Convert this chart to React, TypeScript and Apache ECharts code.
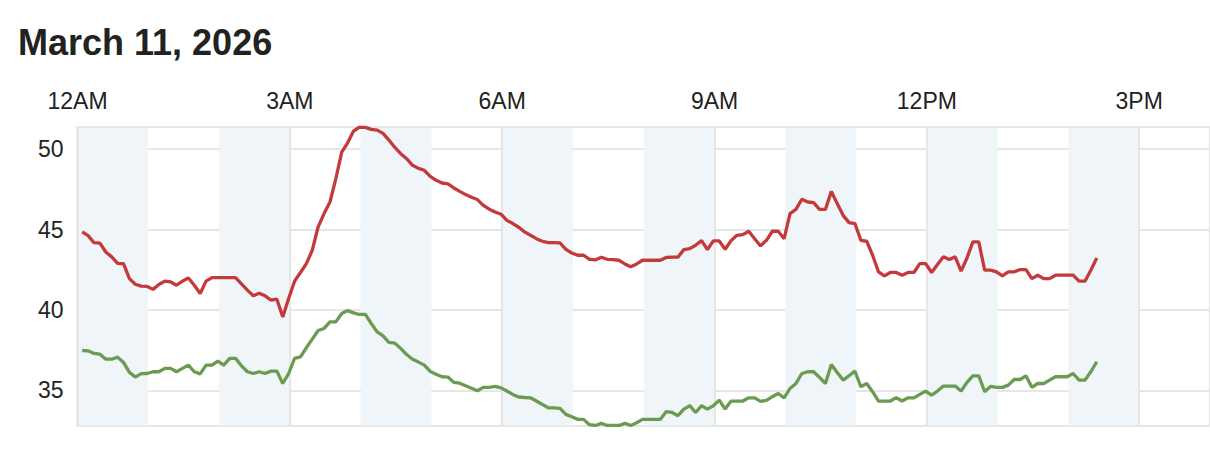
import React, { useEffect, useRef } from "react";
import * as echarts from "echarts";

// Samples every 5 minutes starting at 00:04
const START_MIN = 4;
const STEP_MIN = 5;

const TICK_LABELS = ["12AM", "3AM", "6AM", "9AM", "12PM", "3PM"];
const TITLE = "March 11, 2026";

const redValues = [
  44.85, 44.62, 44.18, 44.15, 43.6, 43.3, 42.9, 42.88, 41.95, 41.6,
  41.48, 41.46, 41.28, 41.58, 41.79, 41.74, 41.54, 41.79, 41.99, 41.54,
  41.02, 41.79, 42.01, 42.01, 42.01, 42.01, 42.01, 41.62, 41.23, 40.88,
  41.04, 40.88, 40.61, 40.67, 39.57, 40.71, 41.79, 42.33, 42.88, 43.71,
  45.16, 45.99, 46.71, 48.16, 49.81, 50.39, 51.12, 51.36, 51.35, 51.22,
  51.18, 50.97, 50.56, 50.1, 49.71, 49.4, 48.99, 48.8, 48.68, 48.3,
  48.06, 47.89, 47.83, 47.58, 47.37, 47.17, 47.0, 46.86, 46.5, 46.26,
  46.09, 45.95, 45.57, 45.37, 45.14, 44.85, 44.64, 44.43, 44.27, 44.19,
  44.19, 44.17, 43.77, 43.54, 43.4, 43.4, 43.15, 43.11, 43.28, 43.15,
  43.13, 43.09, 42.86, 42.68, 42.86, 43.09, 43.09, 43.09, 43.09, 43.26,
  43.28, 43.28, 43.75, 43.81, 44.02, 44.31, 43.75, 44.29, 44.29, 43.77,
  44.31, 44.64, 44.68, 44.89, 44.43, 43.98, 44.33, 44.89, 44.89, 44.43,
  45.99, 46.25, 46.88, 46.71, 46.67, 46.25, 46.25, 47.37, 46.61, 45.88,
  45.43, 45.37, 44.33, 44.27, 43.4, 42.37, 42.12, 42.33, 42.33, 42.16,
  42.33, 42.33, 42.88, 42.88, 42.33, 42.82, 43.3, 43.13, 43.3, 42.41,
  43.23, 44.23, 44.23, 42.47, 42.47, 42.37, 42.12, 42.37, 42.37, 42.51,
  42.51, 41.95, 42.16, 41.95, 41.95, 42.16, 42.16, 42.16, 42.16, 41.79,
  41.79, 42.47, 43.23,
];

const greenValues = [
  37.48, 37.46, 37.3, 37.25, 36.94, 36.94, 37.07, 36.74, 36.12, 35.83,
  36.04, 36.05, 36.16, 36.16, 36.37, 36.37, 36.16, 36.37, 36.57, 36.16,
  36.03, 36.57, 36.57, 36.82, 36.57, 36.99, 36.99, 36.53, 36.16, 36.05,
  36.16, 36.05, 36.2, 36.2, 35.43, 36.05, 36.99, 37.09, 37.65, 38.19,
  38.72, 38.85, 39.26, 39.26, 39.78, 39.96, 39.82, 39.72, 39.72, 39.16,
  38.64, 38.39, 37.98, 37.94, 37.61, 37.23, 36.94, 36.76, 36.57, 36.18,
  36.01, 35.85, 35.83, 35.5, 35.45, 35.29, 35.14, 34.98, 35.19, 35.19,
  35.25, 35.16, 34.96, 34.75, 34.59, 34.56, 34.54, 34.34, 34.13, 33.92,
  33.92, 33.88, 33.51, 33.36, 33.2, 33.2, 32.87, 32.82, 32.95, 32.82,
  32.82, 32.82, 32.95, 32.82, 32.99, 33.2, 33.2, 33.2, 33.2, 33.68,
  33.63, 33.43, 33.84, 34.05, 33.63, 34.05, 33.84, 34.05, 34.4, 33.84,
  34.34, 34.34, 34.34, 34.54, 34.54, 34.32, 34.38, 34.61, 34.81, 34.54,
  35.12, 35.43, 36.05, 36.16, 36.16, 35.81, 35.43, 36.61, 36.12, 35.64,
  35.91, 36.2, 35.23, 35.43, 34.92, 34.34, 34.34, 34.34, 34.54, 34.34,
  34.54, 34.54, 34.75, 34.96, 34.71, 34.96, 35.27, 35.27, 35.27, 34.96,
  35.5, 35.91, 35.91, 34.92, 35.25, 35.19, 35.19, 35.33, 35.68, 35.68,
  35.91, 35.19, 35.43, 35.43, 35.64, 35.85, 35.85, 35.85, 36.05, 35.64,
  35.64, 36.16, 36.78,
];

const Y_MIN = 32.82;
const Y_MAX = 51.37;
const X_MIN = 0;
const X_MAX = 960;

const FONT = '"Liberation Sans", Arial, Helvetica, sans-serif';

function toPairs(values: number[]): [number, number][] {
  return values.map((v, i) => [START_MIN + i * STEP_MIN, v]);
}

export default function App() {
  const ref = useRef<HTMLDivElement>(null);

  useEffect(() => {
    document.body.style.margin = "0";
    if (!ref.current) return;
    const chart = echarts.init(ref.current, undefined, { renderer: "svg" });
    const gridColor = "#e6e6e6";
    chart.setOption({
      animation: false,
      backgroundColor: "#ffffff",
      title: {
        text: TITLE,
        left: 13,
        top: 19,
        textStyle: {
          fontFamily: FONT,
          fontSize: 36,
          fontWeight: "bold",
          color: "#222222",
        },
      },
      grid: {
        left: 77.5,
        right: 0,
        top: 127,
        bottom: 40.5,
        show: false,
      },
      xAxis: [
        {
          type: "value",
          min: X_MIN,
          max: X_MAX,
          interval: 60,
          position: "bottom",
          axisLine: { show: false },
          axisTick: { show: false },
          axisLabel: { show: false },
          splitLine: { show: false },
          splitArea: {
            show: true,
            areaStyle: { color: ["#eff5f8", "rgba(255,255,255,0)"] },
          },
        },
        {
          type: "value",
          min: X_MIN,
          max: X_MAX,
          interval: 180,
          position: "top",
          axisLine: { show: true, lineStyle: { color: gridColor, width: 2 } },
          axisTick: { show: false },
          axisLabel: {
            show: true,
            showMaxLabel: false,
            margin: 15,
            fontFamily: FONT,
            fontSize: 23,
            color: "#222222",
            formatter: (v: number) =>
              v % 180 === 0 ? TICK_LABELS[v / 180] ?? "" : "",
          },
          splitLine: { show: true, lineStyle: { color: gridColor, width: 2 } },
        },
      ],
      yAxis: {
        type: "value",
        min: Y_MIN,
        max: Y_MAX,
        minInterval: 5,
        maxInterval: 5,
        axisLine: { show: true, lineStyle: { color: gridColor, width: 2.5 } },
        axisTick: { show: false },
        axisLabel: {
          show: true,
          showMinLabel: false,
          showMaxLabel: false,
          margin: 14,
          fontFamily: FONT,
          fontSize: 23,
          color: "#222222",
          formatter: (v: number) =>
            Math.abs(v - Math.round(v)) < 1e-6 && Math.round(v) % 5 === 0
              ? String(Math.round(v))
              : "",
        },
        splitLine: { show: true, lineStyle: { color: gridColor, width: 2 } },
      },
      series: [
        {
          type: "line",
          xAxisIndex: 1,
          data: toPairs(redValues),
          symbol: "none",
          lineStyle: { color: "#c43a3a", width: 3.3 },
          itemStyle: { color: "#c43a3a" },
          z: 3,
        },
        {
          type: "line",
          xAxisIndex: 1,
          data: toPairs(greenValues),
          symbol: "none",
          lineStyle: { color: "#6b9b50", width: 3.3 },
          itemStyle: { color: "#6b9b50" },
          z: 3,
        },
      ],
    });
    return () => chart.dispose();
  }, []);

  return <div ref={ref} style={{ width: 1210, height: 466 }} />;
}
